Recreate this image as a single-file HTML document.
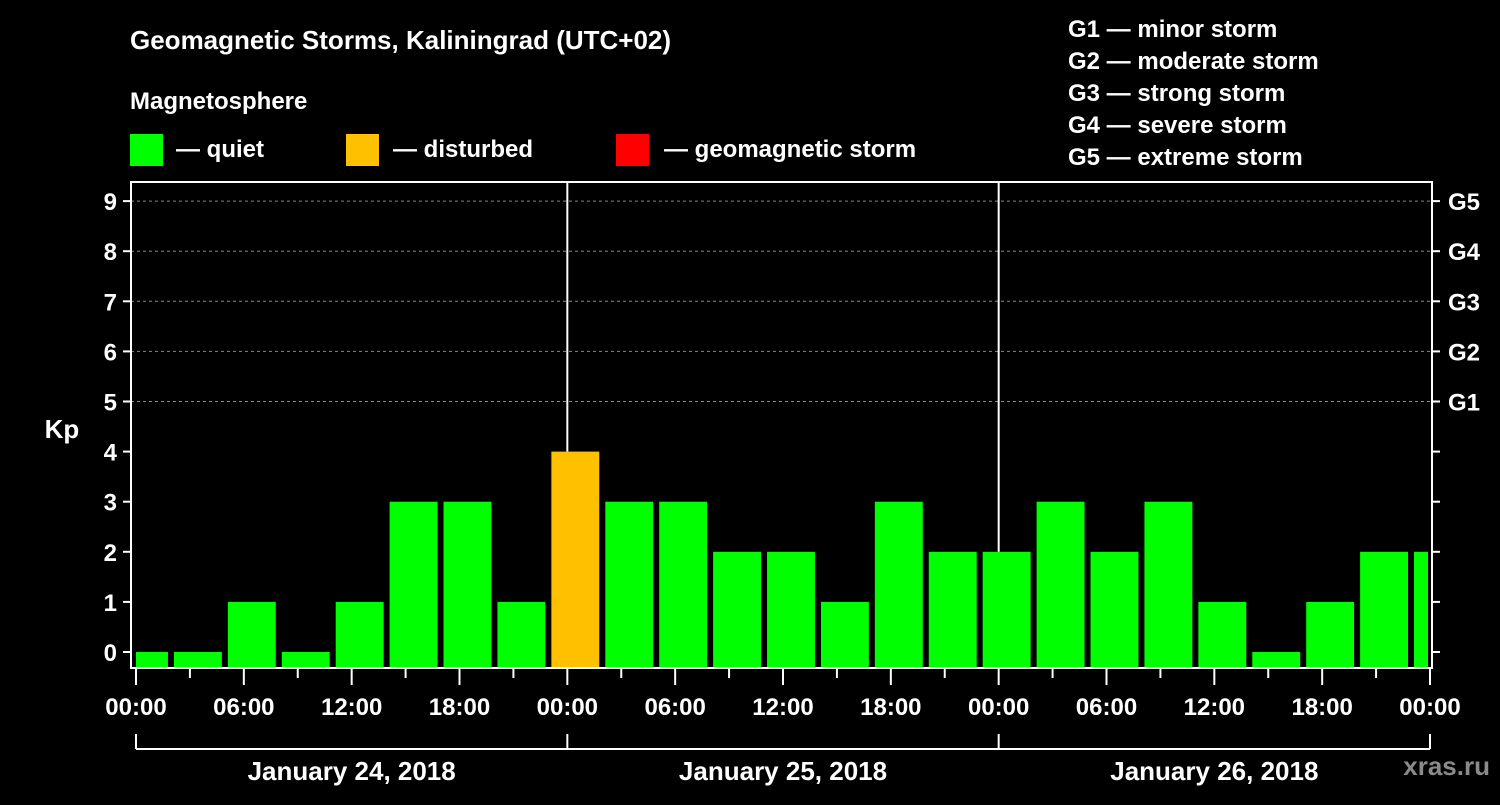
<!DOCTYPE html>
<html><head><meta charset="utf-8"><style>
body{margin:0;background:#000;}
svg text{font-family:"Liberation Sans",Arial,sans-serif;font-weight:bold;fill:#fff;}
</style></head><body>
<svg id="c" width="1500" height="800" viewBox="0 0 1500 800">
<rect width="1500" height="800" fill="#000"/>
<text x="130" y="49" font-size="26">Geomagnetic Storms, Kaliningrad (UTC+02)</text>
<text x="130" y="109" font-size="24">Magnetosphere</text>
<g><rect x="130" y="134" width="33" height="32" fill="#00ff00"/><text x="176" y="157" font-size="24">— quiet</text></g>
<g><rect x="346" y="134" width="33" height="32" fill="#ffc000"/><text x="393" y="157" font-size="24">— disturbed</text></g>
<g><rect x="616" y="134" width="33" height="32" fill="#ff0000"/><text x="664" y="157" font-size="24">— geomagnetic storm</text></g>
<g font-size="24">
<text x="1068" y="37">G1 — minor storm</text>
<text x="1068" y="69">G2 — moderate storm</text>
<text x="1068" y="101">G3 — strong storm</text>
<text x="1068" y="133">G4 — severe storm</text>
<text x="1068" y="165">G5 — extreme storm</text>
</g>
<text x="62" y="438" font-size="26" text-anchor="middle">Kp</text>
<text x="1490" y="775" font-size="26" text-anchor="end" fill="#888" style="fill:#8a8a8a">xras.ru</text>
<g id="g"></g>
</svg>
<script>
const barStarts=[-1,2,5,8,11,14,17,20,23,26,29,32,35,38,41,44,47,50,53,56,59,62,65,68,71];
const kpValues=[0,0,1,0,1,3,3,1,4,3,3,2,2,1,3,2,2,3,2,3,1,0,1,2,2];
const yTicks=[0,1,2,3,4,5,6,7,8,9];
const gLabels=["G1","G2","G3","G4","G5"];
const xTickLabels=["00:00","06:00","12:00","18:00","00:00","06:00","12:00","18:00","00:00","06:00","12:00","18:00","00:00"];
const dayLabels=["January 24, 2018","January 25, 2018","January 26, 2018"];
const NS="http://www.w3.org/2000/svg";
const g=document.getElementById('g');
const X0=136,X1=1430,PL=131,PR=1432,PT=182,PB=668;
const x=h=>X0+(X1-X0)*h/72;
const y=v=>652-v*50.1;
function el(t,a,txt){const e=document.createElementNS(NS,t);for(const k in a)e.setAttribute(k,a[k]);if(txt!==undefined)e.textContent=txt;g.appendChild(e);return e;}
// grid
yTicks.forEach(v=>{if(v>=5){const l=el('line',{x1:PL,x2:PR,y1:y(v),y2:y(v),stroke:'#888','stroke-dasharray':'3,3','stroke-width':1});
}});
// bars
barStarts.forEach((s,i)=>{const v=kpValues[i];const a=Math.max(X0,x(s)+2),b=Math.min(x(s+3)-4,X1-2);
const c=v>=5?'#ff0000':(v>=4?'#ffc000':'#00ff00');
const r=el('rect',{x:a,y:y(v),width:b-a,height:PB-y(v),fill:c});
});
// day separators
[24,48].forEach(h=>{const l=el('line',{x1:x(h),x2:x(h),y1:PT,y2:y(kpValues[barStarts.findIndex(s=>s+3>h)]),stroke:'#fff','stroke-width':2});
});
// frame
const f=el('rect',{x:PL,y:PT,width:PR-PL,height:PB-PT,fill:'none',stroke:'#fff','stroke-width':2});

// y ticks
yTicks.forEach(v=>{el('line',{x1:PL-8,x2:PL,y1:y(v),y2:y(v),stroke:'#fff','stroke-width':2});
el('line',{x1:PR,x2:PR+8,y1:y(v),y2:y(v),stroke:'#fff','stroke-width':2});
const t=el('text',{x:PL-14,y:y(v)+9,'font-size':24,'text-anchor':'end'},v);

if(v>=5){const t2=el('text',{x:1448,y:y(v)+9,'font-size':24},gLabels[v-5]);
}});
// x ticks
for(let h=0;h<=72;h+=3){const major=h%6===0;el('line',{x1:x(h),x2:x(h),y1:PB,y2:PB+(major?17:10),stroke:'#fff','stroke-width':2});}
xTickLabels.forEach((lb,i)=>{const t=el('text',{x:x(i*6),y:715,'font-size':24,'text-anchor':'middle'},lb);
});
// date bracket
el('line',{x1:x(0),x2:x(72),y1:749,y2:749,stroke:'#fff','stroke-width':2});
[0,24,48,72].forEach(h=>el('line',{x1:x(h),x2:x(h),y1:734,y2:749,stroke:'#fff','stroke-width':2}));
dayLabels.forEach((d,i)=>{const t=el('text',{x:x(i*24+12),y:780,'font-size':26,'text-anchor':'middle'},d);
});
</script>
</body></html>
